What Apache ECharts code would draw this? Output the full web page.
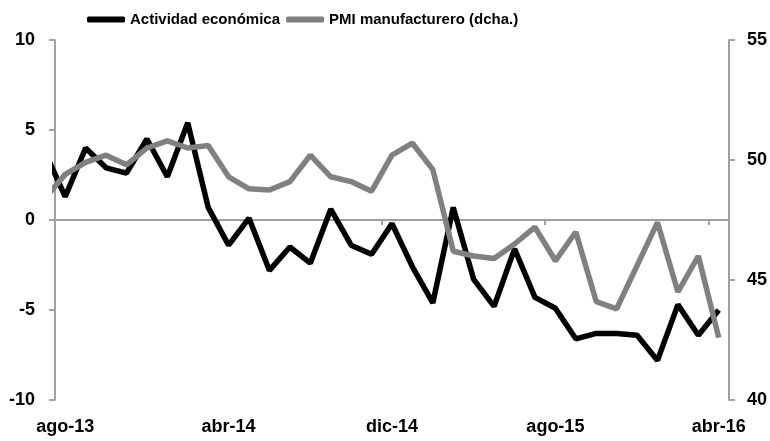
<!DOCTYPE html>
<html>
<head>
<meta charset="utf-8">
<script src="https://cdn.jsdelivr.net/npm/echarts@6/dist/echarts.min.js"></script>
<style>
  html, body { margin: 0; padding: 0; background: #fff; }
  #main { width: 770px; height: 441px; }
</style>
</head>
<body>
<div id="main"></div>
<script>
// meses (jul-13 queda fuera del eje, se recorta)
const months = ['jul-13','ago-13','sep-13','oct-13','nov-13','dic-13',
  'ene-14','feb-14','mar-14','abr-14','may-14','jun-14','jul-14','ago-14','sep-14','oct-14','nov-14','dic-14',
  'ene-15','feb-15','mar-15','abr-15','may-15','jun-15','jul-15','ago-15','sep-15','oct-15','nov-15','dic-15',
  'ene-16','feb-16','mar-16','abr-16'];
const actividad = [3.8, 1.3, 4.0, 2.9, 2.6, 4.5, 2.4, 5.4, 0.7, -1.4, 0.1, -2.8, -1.5, -2.4, 0.6, -1.4, -1.9,
  -0.2, -2.6, -4.6, 0.7, -3.3, -4.8, -1.6, -4.3, -4.9, -6.6, -6.3, -6.3, -6.4, -7.8, -4.7, -6.4, -5.0];
const pmi = [48.4, 49.4, 49.9, 50.2, 49.8, 50.5, 50.8, 50.5, 50.6, 49.3, 48.8, 48.75, 49.1, 50.2, 49.3, 49.1, 48.7,
  50.2, 50.7, 49.6, 46.2, 46.0, 45.9, 46.5, 47.2, 45.8, 47.0, 44.1, 43.8, 45.6, 47.4, 44.5, 46.0, 42.6];
const labelPos = [0, 8, 16, 24, 32];
const tickPos = [7.5, 15.5, 23.5, 31.5];

const font = '"Liberation Sans Narrow", "Arial Narrow", "Liberation Sans", Arial, sans-serif';
const axisGray = '#a0a0a0';
const txt = { color: '#000', fontSize: 18, fontWeight: 'bold', fontFamily: font };

const myChart = echarts.init(document.getElementById('main'));
const option = {
  backgroundColor: '#fff',
  animation: false,
  legend: {
    left: 82,
    top: 7,
    itemWidth: 38,
    itemHeight: 6,
    itemGap: 6,
    icon: 'roundRect',
    textStyle: { ...txt, fontSize: 15 },
    data: ['Actividad económica', 'PMI manufacturero (dcha.)']
  },
  grid: { left: 55, right: 40, top: 40, bottom: 41 },
  xAxis: [
    {
      type: 'value', min: -0.5, max: 32.5,
      axisLine: { onZero: true, onZeroAxisIndex: 0, lineStyle: { color: axisGray, width: 2 } },
      axisTick: { show: true, length: 5, customValues: tickPos, lineStyle: { color: axisGray, width: 2 } },
      axisLabel: { show: false },
      splitLine: { show: false }
    },
    {
      type: 'value', min: -0.5, max: 32.5, position: 'bottom',
      axisLine: { show: false, onZero: false },
      axisTick: { show: false },
      axisLabel: {
        ...txt, margin: 18, customValues: labelPos,
        formatter: v => months[Math.round(v) + 1]
      },
      splitLine: { show: false }
    }
  ],
  yAxis: [
    {
      type: 'value', min: -10, max: 10, interval: 5,
      axisLine: { show: true, onZero: false, lineStyle: { color: axisGray, width: 2 } },
      axisTick: { show: true, length: 6, lineStyle: { color: axisGray, width: 2 } },
      axisLabel: { ...txt, margin: 20 },
      splitLine: { show: false }
    },
    {
      type: 'value', min: 40, max: 55, interval: 5, position: 'right',
      axisLine: { show: true, onZero: false, lineStyle: { color: axisGray, width: 2 } },
      axisTick: { show: true, length: 6, lineStyle: { color: axisGray, width: 2 } },
      axisLabel: { ...txt, margin: 18 },
      splitLine: { show: false }
    }
  ],
  series: [
    {
      name: 'Actividad económica', type: 'line', xAxisIndex: 0, yAxisIndex: 0,
      data: actividad.map((v, i) => [i - 1, v]),
      showSymbol: false, clip: true,
      itemStyle: { color: '#000' },
      lineStyle: { color: '#000', width: 5.5 }
    },
    {
      name: 'PMI manufacturero (dcha.)', type: 'line', xAxisIndex: 0, yAxisIndex: 1,
      data: pmi.map((v, i) => [i - 1, v]),
      showSymbol: false, clip: true,
      itemStyle: { color: '#808080' },
      lineStyle: { color: '#808080', width: 5.5 }
    }
  ]
};
myChart.setOption(option);
</script>
</body>
</html>
